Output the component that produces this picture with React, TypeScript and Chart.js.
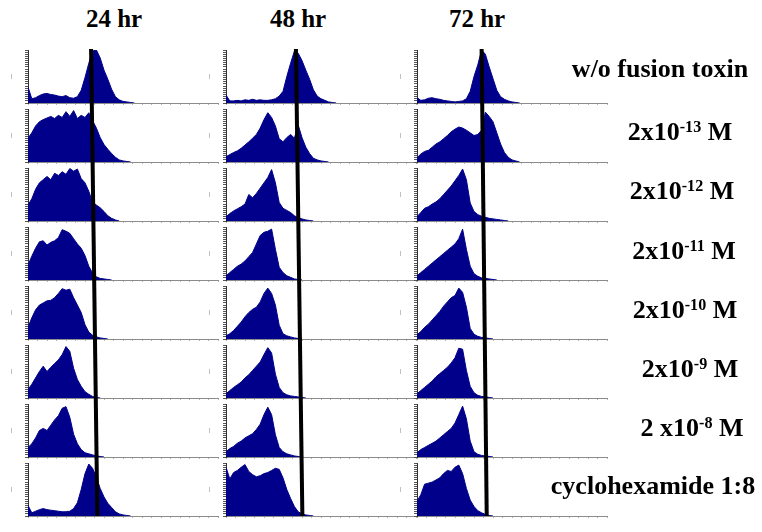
import React, { useEffect, useRef } from 'react';
import { Chart, registerables } from 'chart.js';

Chart.register(...registerables);

// ---------- data ----------
// histogram bin positions (fluorescence channel, 0..100 axis units)
const BINS = [0, 2, 4, 6, 8, 10, 12, 14, 16, 18, 20, 22, 24, 26, 28, 30, 32, 34, 36, 38, 40, 42, 44, 46, 48, 50, 52, 54, 56, 58, 60];

const TIMES = ['24 hr', '48 hr', '72 hr'];

const ROW_LABELS = ['w/o fusion toxin', '2x10', '2x10', '2x10', '2x10', '2x10', '2 x10', 'cyclohexamide 1:8'];
const ROW_EXPONENTS = ['', '-13', '-12', '-11', '-10', '-9', '-8', ''];
const ROW_UNITS = ['', ' M', ' M', ' M', ' M', ' M', ' M', ''];

// 24 hr
const H24_NONE = [30, 8, 10, 14, 17, 18, 16, 15, 13, 12, 14, 10, 9, 12, 24, 48, 75, 98, 100, 85, 62, 45, 26, 12, 6, 3, 2, 1, 0];
const H24_13 = [45, 55, 68, 76, 80, 83, 86, 82, 88, 84, 95, 86, 97, 82, 88, 84, 93, 78, 64, 46, 33, 24, 16, 9, 4, 2, 1, 0];
const H24_12 = [30, 42, 60, 72, 78, 84, 78, 90, 86, 93, 88, 99, 94, 98, 80, 72, 56, 36, 30, 25, 18, 10, 5, 2, 0];
const H24_11 = [28, 45, 60, 72, 74, 66, 71, 74, 80, 95, 92, 88, 78, 68, 60, 46, 26, 13, 6, 3, 2, 1, 0];
const H24_10 = [22, 40, 55, 64, 68, 72, 73, 78, 86, 95, 92, 94, 78, 64, 50, 27, 13, 7, 4, 2, 1, 0];
const H24_9 = [16, 26, 38, 50, 60, 50, 58, 65, 72, 82, 97, 88, 56, 35, 22, 12, 7, 3, 1, 0];
const H24_8 = [18, 25, 36, 50, 54, 50, 60, 70, 78, 92, 95, 75, 43, 25, 14, 8, 6, 4, 2, 1, 0];
const H24_CHX = [20, 6, 9, 12, 14, 12, 11, 10, 9, 8, 8, 9, 14, 25, 50, 80, 98, 90, 73, 52, 36, 24, 16, 8, 4, 2, 1, 0];

// 48 hr
const H48_NONE = [15, 4, 4, 5, 4, 6, 5, 7, 5, 6, 5, 5, 6, 8, 13, 22, 50, 75, 98, 94, 80, 62, 45, 25, 13, 8, 5, 2, 1, 0];
const H48_13 = [10, 14, 18, 21, 26, 32, 38, 45, 52, 64, 80, 93, 84, 68, 44, 38, 46, 52, 45, 70, 46, 28, 16, 7, 4, 2, 1, 0];
const H48_12 = [8, 14, 19, 23, 27, 32, 50, 44, 52, 62, 72, 82, 97, 72, 35, 24, 20, 16, 10, 6, 4, 2, 1, 0];
const H48_11 = [8, 14, 20, 26, 30, 36, 44, 52, 68, 84, 90, 92, 96, 58, 24, 14, 8, 5, 2, 1, 0];
const H48_10 = [6, 10, 16, 24, 32, 42, 50, 56, 60, 70, 86, 96, 86, 64, 26, 10, 6, 4, 2, 1, 0];
const H48_9 = [8, 14, 20, 25, 30, 38, 44, 52, 60, 68, 82, 95, 85, 45, 20, 10, 6, 4, 3, 2, 1, 0];
const H48_8 = [10, 16, 20, 26, 30, 36, 40, 44, 52, 62, 80, 94, 80, 42, 18, 10, 6, 4, 2, 1, 0];
const H48_CHX = [92, 70, 82, 86, 92, 97, 84, 78, 74, 76, 80, 82, 86, 90, 88, 72, 50, 33, 18, 8, 4, 2, 1, 0];

// 72 hr
const H72_NONE = [10, 5, 6, 9, 10, 8, 7, 5, 4, 3, 2, 3, 4, 8, 22, 50, 72, 100, 92, 68, 46, 24, 12, 7, 4, 2, 1, 0];
const H72_13 = [8, 15, 20, 22, 28, 34, 38, 44, 50, 57, 62, 66, 64, 60, 55, 50, 52, 60, 94, 86, 76, 55, 34, 18, 9, 4, 2, 0];
const H72_12 = [8, 16, 24, 27, 32, 36, 42, 50, 58, 66, 76, 86, 98, 78, 34, 18, 12, 9, 7, 5, 4, 3, 2, 1, 0];
const H72_11 = [8, 14, 20, 26, 32, 38, 44, 50, 56, 62, 68, 78, 96, 58, 26, 12, 7, 4, 3, 2, 1, 0];
const H72_10 = [8, 14, 22, 28, 36, 44, 52, 62, 70, 78, 82, 96, 88, 60, 20, 9, 5, 3, 2, 1, 0];
const H72_9 = [8, 14, 20, 26, 32, 40, 46, 52, 58, 66, 76, 94, 92, 52, 22, 10, 5, 3, 2, 1, 0];
const H72_8 = [8, 14, 18, 22, 26, 30, 36, 42, 48, 54, 64, 80, 96, 72, 30, 10, 5, 3, 2, 1, 0];
const H72_CHX = [28, 40, 60, 62, 64, 68, 72, 80, 86, 84, 92, 96, 80, 52, 30, 18, 10, 6, 3, 1, 0];

const COLUMNS = [
  [H24_NONE, H24_13, H24_12, H24_11, H24_10, H24_9, H24_8, H24_CHX],
  [H48_NONE, H48_13, H48_12, H48_11, H48_10, H48_9, H48_8, H48_CHX],
  [H72_NONE, H72_13, H72_12, H72_11, H72_10, H72_9, H72_8, H72_CHX],
];

// reference marker (black line) position, in channel units, at top and bottom of each column
const MARKER_TOP = [33.2, 36.8, 34.0];
const MARKER_BOTTOM = [36.5, 40.2, 36.7];

// ---------- layout / style ----------
const NAVY = '#00008b';
const AXIS_X = [28, 226, 417];
const PLOT_W = 190;
const PLOT_H = 53;
const ROW_TOP = 50;
const ROW_STEP = 59;
const Y_AXIS_W = 22;
const PAD_TOP = 3;
const PAD_RIGHT = 4;
const X_AXIS_H = 4;

const TITLE_CX = [114, 298, 477];
const LABEL_CX = [660, 680, 682, 684, 685, 690, 692, 653];
const LABEL_BASELINE = [78, 141, 200, 260, 319, 378, 437, 495];

function Panel({ values, left, top }: { values: number[]; left: number; top: number }) {
  const ref = useRef<HTMLCanvasElement>(null);
  const w = Y_AXIS_W + PLOT_W + PAD_RIGHT;
  const h = PAD_TOP + PLOT_H + X_AXIS_H;
  useEffect(() => {
    const chart = new Chart(ref.current as HTMLCanvasElement, {
      type: 'line',
      data: {
        datasets: [
          {
            data: values.map((v, i) => ({ x: BINS[i], y: v })),
            fill: 'origin',
            backgroundColor: NAVY,
            borderColor: NAVY,
            borderWidth: 1,
            pointRadius: 0,
            tension: 0,
          },
        ],
      },
      options: {
        animation: false,
        responsive: false,
        maintainAspectRatio: false,
        events: [],
        plugins: { legend: { display: false }, tooltip: { enabled: false } },
        layout: { padding: { top: PAD_TOP, right: PAD_RIGHT, left: 0, bottom: 0 } },
        scales: {
          x: {
            type: 'linear',
            min: 0,
            max: 100,
            border: { color: '#8c8c8c', width: 1 },
            grid: { drawOnChartArea: false, tickLength: 2, color: '#b4b4b4' },
            ticks: { display: false, stepSize: 5 },
            afterFit: (s: any) => {
              s.height = X_AXIS_H;
            },
          },
          y: {
            min: 0,
            max: 100,
            border: { color: '#333', width: 1 },
            grid: { drawOnChartArea: false, tickLength: 3, color: '#555' },
            ticks: { display: false, stepSize: 4 },
            title: { display: true, text: '–', color: '#a0a0a0', font: { size: 9 }, padding: 0 },
            afterFit: (s: any) => {
              s.width = Y_AXIS_W;
            },
          },
        },
      } as any,
    });
    return () => chart.destroy();
  }, [values]);
  return (
    <canvas
      ref={ref}
      width={w}
      height={h}
      style={{ position: 'absolute', left, top, width: w, height: h }}
    />
  );
}

function Marker({ col }: { col: number }) {
  const ref = useRef<HTMLCanvasElement>(null);
  const pad = 4;
  const top = ROW_TOP - 1;
  const bottom = ROW_TOP + 7 * ROW_STEP + PLOT_H;
  const w = PLOT_W + pad * 2;
  const h = bottom - top + pad * 2;
  useEffect(() => {
    const chart = new Chart(ref.current as HTMLCanvasElement, {
      type: 'line',
      data: {
        datasets: [
          {
            data: [
              { x: MARKER_TOP[col], y: 1 },
              { x: MARKER_BOTTOM[col], y: 0 },
            ],
            borderColor: '#000',
            borderWidth: 4,
            pointRadius: 0,
            fill: false,
            clip: false,
          } as any,
        ],
      },
      options: {
        animation: false,
        responsive: false,
        maintainAspectRatio: false,
        events: [],
        plugins: { legend: { display: false }, tooltip: { enabled: false } },
        layout: { padding: pad },
        scales: {
          x: { type: 'linear', min: 0, max: 100, display: false },
          y: { min: 0, max: 1, display: false },
        },
      } as any,
    });
    return () => chart.destroy();
  }, [col]);
  return (
    <canvas
      ref={ref}
      width={w}
      height={h}
      style={{ position: 'absolute', left: AXIS_X[col] - pad, top: top - pad, width: w, height: h }}
    />
  );
}

const FONT = '"Liberation Serif", "Times New Roman", serif';

export default function App() {
  const panels: React.ReactNode[] = [];
  COLUMNS.forEach((col, c) => {
    col.forEach((vals, r) => {
      panels.push(
        <Panel
          key={`p${c}-${r}`}
          values={vals}
          left={AXIS_X[c] - Y_AXIS_W}
          top={ROW_TOP + r * ROW_STEP - PAD_TOP}
        />
      );
    });
  });
  return (
    <div
      style={{
        position: 'absolute',
        left: 0,
        top: 0,
        width: 762,
        height: 532,
        background: '#fff',
        overflow: 'hidden',
        fontFamily: FONT,
        fontWeight: 'bold',
        color: '#000',
      }}
    >
      {panels}
      {[0, 1, 2].map((c) => (
        <Marker key={`m${c}`} col={c} />
      ))}
      {TIMES.map((t, c) => (
        <div
          key={`t${c}`}
          style={{
            position: 'absolute',
            left: TITLE_CX[c] - 80,
            width: 160,
            top: 27 - 0.8375 * 25,
            fontSize: 25,
            lineHeight: '25px',
            textAlign: 'center',
            whiteSpace: 'nowrap',
          }}
        >
          {t}
        </div>
      ))}
      {ROW_LABELS.map((lab, r) => (
        <div
          key={`l${r}`}
          style={{
            position: 'absolute',
            left: LABEL_CX[r] - 150,
            width: 300,
            top: LABEL_BASELINE[r] - 0.8375 * 26,
            fontSize: 26,
            lineHeight: '26px',
            textAlign: 'center',
            whiteSpace: 'nowrap',
          }}
        >
          {lab}
          {ROW_EXPONENTS[r] && (
            <span style={{ fontSize: '0.62em', position: 'relative', top: '-0.5em' }}>{ROW_EXPONENTS[r]}</span>
          )}
          {ROW_UNITS[r]}
        </div>
      ))}
    </div>
  );
}
